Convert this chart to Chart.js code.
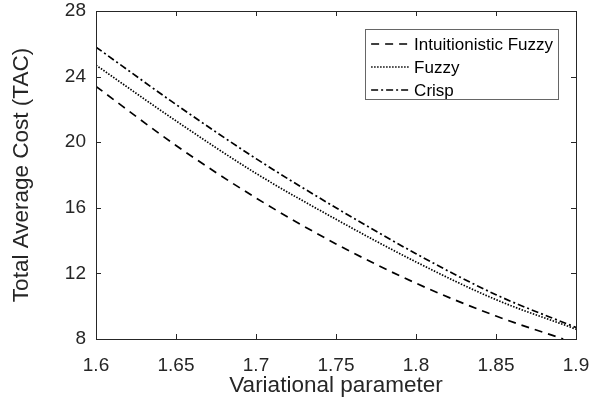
<!DOCTYPE html>
<html>
<head>
<meta charset="utf-8">
<script src="https://cdn.jsdelivr.net/npm/chart.js"></script>
<style>
  html, body { margin: 0; padding: 0; background: #fff; }
  #wrap { width: 591px; height: 405px; }
</style>
</head>
<body>
<div id="wrap"><canvas id="tacChart" width="591" height="405"></canvas></div>
<script>
// data
const paramX = [1.6, 1.65, 1.7, 1.75, 1.8, 1.85, 1.9];
const paramXIf = [1.6, 1.65, 1.7, 1.75, 1.8, 1.85, 1.892];
const intuitionistic = [23.4, 19.8, 16.6, 13.8, 11.4, 9.4, 8.0];
const fuzzy = [24.7, 21.3, 18.1, 15.3, 12.7, 10.4, 8.6];
const crisp = [25.8, 22.3, 19.0, 16.0, 13.2, 10.7, 8.7];
const yTicks = [8, 12, 16, 20, 24, 28];
const xTicks = [1.6, 1.65, 1.7, 1.75, 1.8, 1.85, 1.9];

const ink = "#262626";
const font = "'Liberation Sans', Arial, sans-serif";

function pts(xs, ys) {
  return xs.map((x, i) => ({ x: x, y: ys[i] }));
}

// box + inward ticks, like matlab
const boxPlugin = {
  id: "box",
  afterDraw(chart) {
    const { ctx, chartArea: a, scales } = chart;
    ctx.save();
    ctx.strokeStyle = ink;
    ctx.lineWidth = 1;
    ctx.strokeRect(a.left + 0.5, a.top + 0.5, a.right - a.left, a.bottom - a.top);
    ctx.beginPath();
    xTicks.forEach((v) => {
      const px = Math.round(scales.x.getPixelForValue(v)) + 0.5;
      ctx.moveTo(px, a.bottom); ctx.lineTo(px, a.bottom - 5);
      ctx.moveTo(px, a.top); ctx.lineTo(px, a.top + 5);
    });
    yTicks.forEach((v) => {
      const py = Math.round(scales.y.getPixelForValue(v)) + 0.5;
      ctx.moveTo(a.left, py); ctx.lineTo(a.left + 5, py);
      ctx.moveTo(a.right, py); ctx.lineTo(a.right - 5, py);
    });
    ctx.stroke();
    ctx.restore();
  },
};

// legend box in the top right corner of the plot
const legendBox = {
  id: "legendBox",
  afterDraw(chart) {
    const { ctx, chartArea: a } = chart;
    const sets = chart.data.datasets;
    ctx.save();
    ctx.font = "17px " + font;
    const textW = Math.max(...sets.map((d) => ctx.measureText(d.label).width));
    const right = a.right - 18;
    const top = a.top + 18;
    const w = 6 + 38 + 5 + textW + 5;
    const rowH = 23;
    const h = 70;
    const left = right - w;
    ctx.fillStyle = "#fff";
    ctx.fillRect(left, top, w, h);
    ctx.strokeStyle = "#666";
    ctx.lineWidth = 1;
    ctx.strokeRect(Math.round(left) + 0.5, Math.round(top) + 0.5, Math.round(w), h);
    sets.forEach((d, i) => {
      const cy = top + 15 + i * rowH;
      ctx.beginPath();
      ctx.setLineDash(d.borderDash || []);
      ctx.strokeStyle = "#000";
      ctx.lineWidth = d.borderWidth;
      ctx.moveTo(left + 6, cy);
      ctx.lineTo(left + 44, cy);
      ctx.stroke();
      ctx.setLineDash([]);
      ctx.fillStyle = "#000";
      ctx.textBaseline = "middle";
      ctx.fillText(d.label, left + 49, cy + 1);
    });
    ctx.restore();
  },
};

new Chart(document.getElementById("tacChart"), {
  type: "line",
  data: {
    datasets: [
      {
        label: "Intuitionistic Fuzzy",
        data: pts(paramXIf, intuitionistic),
        borderColor: "#000",
        borderWidth: 1.7,
        borderDash: [8, 6],
      },
      {
        label: "Fuzzy",
        data: pts(paramX, fuzzy),
        borderColor: "#000",
        borderWidth: 1.7,
        borderDash: [1.5, 1.5],
      },
      {
        label: "Crisp",
        data: pts(paramX, crisp),
        borderColor: "#000",
        borderWidth: 1.7,
        borderDash: [7, 3, 2, 3],
      },
    ],
  },
  options: {
    responsive: false,
    animation: false,
    elements: {
      point: { radius: 0 },
      line: { cubicInterpolationMode: "monotone", fill: false },
    },
    layout: { padding: { top: 11, right: 15, left: 0, bottom: 0 } },
    plugins: {
      tooltip: { enabled: false },
      legend: { display: false },
    },
    scales: {
      x: {
        type: "linear",
        min: 1.6,
        max: 1.9,
        afterFit(s) {
          s.height = 66;
          s.paddingLeft = 0;
          s.paddingRight = 0;
        },
        afterBuildTicks(s) { s.ticks = xTicks.map((v) => ({ value: v })); },
        grid: { display: false, drawTicks: false },
        border: { display: false },
        ticks: {
          color: ink,
          padding: 15,
          maxRotation: 0,
          font: { family: font, size: 19 },
          callback: (v) => String(+v.toFixed(2)),
        },
        title: {
          display: true,
          text: "Variational parameter",
          color: ink,
          font: { family: font, size: 22.5 },
          padding: { bottom: 6 },
        },
      },
      y: {
        min: 8,
        max: 28,
        afterFit(s) {
          s.width = 96;
          s.paddingTop = 0;
          s.paddingBottom = 0;
        },
        afterBuildTicks(s) { s.ticks = yTicks.map((v) => ({ value: v })); },
        grid: { display: false, drawTicks: false },
        border: { display: false },
        ticks: {
          color: ink,
          padding: 10,
          font: { family: font, size: 19 },
        },
        title: {
          display: true,
          text: "Total Average Cost (TAC)",
          color: ink,
          font: { family: font, size: 22.5 },
          padding: { top: 8 },
        },
      },
    },
  },
  plugins: [boxPlugin, legendBox],
});
</script>
</body>
</html>
